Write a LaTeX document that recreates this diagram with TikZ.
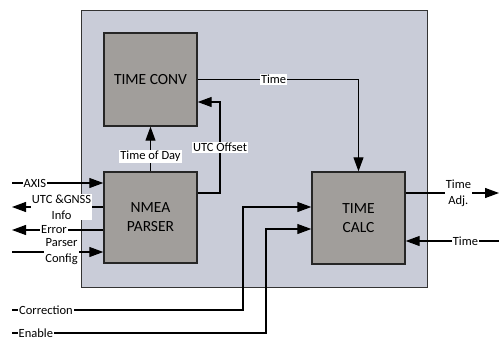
\documentclass[tikz,border=0pt]{standalone}
\usepackage{fontspec}
\setmainfont{Carlito}
\usetikzlibrary{arrows.meta}
\definecolor{frameblue}{RGB}{201,204,216}
\definecolor{boxgray}{RGB}{161,158,155}
\tikzset{
  blk/.style={draw=black!85, line width=1.4pt, fill=boxgray, align=center,
    font=\fontsize{15.5}{19}\selectfont, inner sep=0pt},
  arr/.style={line width=1.1pt, -{Triangle[length=14pt,width=10pt]}},
  ln/.style={line width=1.1pt},
  lbl/.style={fill=white, inner sep=1pt, align=center,
    font=\fontsize{12.5}{16}\selectfont},
}
\begin{document}
\begin{tikzpicture}[x=1pt,y=-1pt]
\useasboundingbox (0,0) rectangle (499,341);
\node[draw=black!80, line width=0.8pt, fill=frameblue, minimum width=346pt, minimum height=277pt, inner sep=0pt] (frame) at (254.5,148.5) {};
\node[blk, minimum width=93pt, minimum height=93pt] (conv) at (150.5,79.5) {TIME CONV};
\node[blk, minimum width=93pt, minimum height=91pt] (nmea) at (150.5,217.5) {NMEA\\PARSER};
\node[blk, minimum width=93pt, minimum height=92pt] (calc) at (358.5,218) {TIME\\CALC};
% internal
\draw[arr] (nmea.north) -- node[lbl, pos=0.33]{Time of Day} (conv.south);
\coordinate (u0) at (220,193);
\coordinate (u1) at (220,102);
\draw[arr] (nmea.east |- u0) -- (u0) -- node[lbl, pos=0.5]{UTC Offset} (u1) -- (conv.east |- u1);
\draw[arr] (conv.east) -| node[lbl, pos=0.236]{Time} (calc.north);
% left side of NMEA
\coordinate (a0) at (12,183);
\draw[arr] (a0) -- node[lbl, pos=0.25]{AXIS} (nmea.west |- a0);
\coordinate (g0) at (12,207);
\draw[arr] (nmea.west |- g0) -- node[lbl, pos=0.457]{UTC \&GNSS\\Info} (g0);
\coordinate (e0) at (12,230);
\draw[arr] (nmea.west |- e0) -- node[lbl, pos=0.54]{Error} (e0);
\coordinate (p0) at (12,252);
\draw[arr] (p0) -- node[lbl, pos=0.543]{Parser\\Config} (nmea.west |- p0);
% right side of CALC
\coordinate (t0) at (499,193);
\draw[arr] (calc.east |- t0) -- node[lbl, pos=0.565]{Time\\Adj.} (t0);
\coordinate (t1) at (499,241);
\draw[arr] (t1) -- node[lbl, pos=0.36]{Time} (calc.east |- t1);
% Correction / Enable
\coordinate (c0) at (12,310);
\coordinate (c1) at (243,310);
\coordinate (c2) at (243,207);
\draw[arr] (c0) -- node[lbl, pos=0.147]{Correction} (c1) -- (c2) -- (calc.west |- c2);
\coordinate (n0) at (12,333);
\coordinate (n1) at (266,333);
\coordinate (n2) at (266,229);
\draw[arr] (n0) -- node[lbl, pos=0.094]{Enable} (n1) -- (n2) -- (calc.west |- n2);
\end{tikzpicture}
\end{document}
